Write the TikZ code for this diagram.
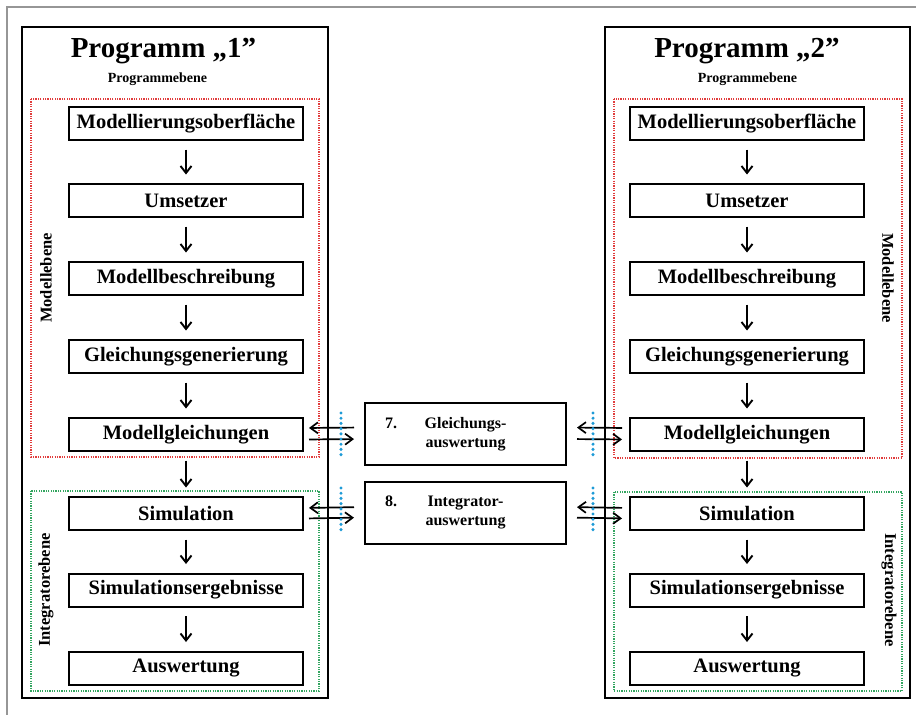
\documentclass[tikz,border=0pt]{standalone}
\usepackage{fontspec}
\setmainfont{Liberation Serif}
\usetikzlibrary{arrows.meta,calc}
\definecolor{dotred}{RGB}{225,60,60}
\definecolor{dotgreen}{RGB}{50,165,95}
\definecolor{dotblue}{RGB}{30,155,215}
\definecolor{framegray}{RGB}{150,150,150}
\tikzset{
  stepbox/.style={draw, line width=2pt, minimum width=234pt, minimum height=33pt,
    inner sep=0pt, font=\fontsize{20.5}{22}\selectfont\bfseries},
  midbox/.style={draw, line width=2pt, minimum width=201pt, minimum height=62pt,
    inner sep=0pt, align=center, font=\fontsize{16}{19}\selectfont\bfseries},
  numlabel/.style={anchor=base west, inner sep=0pt, font=\fontsize{16}{19}\selectfont\bfseries},
  flow/.style={-{Straight Barb[length=7pt,width=11pt]}, line width=1.9pt,
    shorten <=8.5pt, shorten >=8.5pt},
  xarr/.style={-{Straight Barb[length=7.5pt,width=11pt]}, line width=1.7pt},
  outerframe/.style={draw, line width=2.4pt},
  reddots/.style={draw=dotred, line width=1.4pt, dash pattern=on 1.2pt off 1.2pt},
  greendots/.style={draw=dotgreen, line width=1.4pt, dash pattern=on 1.2pt off 1.2pt},
  bluedots/.style={draw=dotblue, line width=3.4pt, line cap=round, dash pattern=on 0pt off 5.2pt},
  titletext/.style={anchor=base, inner sep=0pt, font=\fontsize{29}{31}\selectfont\bfseries},
  subtitle/.style={anchor=base, inner sep=0pt, font=\fontsize{14}{16}\selectfont\bfseries},
  sidelabel/.style={inner sep=0pt, font=\fontsize{16.5}{18}\selectfont\bfseries},
}
\begin{document}
\begin{tikzpicture}[x=1pt, y=-1pt]
  \useasboundingbox (0,0) rectangle (916,715);
  \fill[white] (0,0) rectangle (916,715);
  % page frame (top and left edge)
  \draw[framegray, line width=1.3pt] (7,715) -- (7,7) -- (916,7);

  % program frames
  \draw[outerframe] (22,27) rectangle (328,698);
  \draw[outerframe] (605,27) rectangle (910,698);

  % level frames
  \draw[reddots] (31,99) rectangle (319,457);
  \draw[greendots] (31,491) rectangle (319,691);
  \draw[reddots] (614,99) rectangle (902,458);
  \draw[greendots] (614,492) rectangle (902,691);

  % titles
  \node[titletext] (t1) at (163.5,57) {Programm „1”};
  \node[subtitle] (s1) at (157.5,82) {Programmebene};
  \node[titletext] (t2) at (747,57) {Programm „2”};
  \node[subtitle] (s2) at (747.5,82) {Programmebene};

  % side labels
  \node[sidelabel, rotate=90] (ml1) at (46,278) {Modellebene};
  \node[sidelabel, rotate=90] (il1) at (46,590) {Integratorebene};
  \node[sidelabel, rotate=-90] (ml2) at (888,278) {Modellebene};
  \node[sidelabel, rotate=-90] (il2) at (889,590) {Integratorebene};

  % program 1 chain
  \node[stepbox] (L1) at (186,123.5) {Modellierungsoberfläche};
  \node[stepbox] (L2) at (186,200.5) {Umsetzer};
  \node[stepbox] (L3) at (186,278.5) {Modellbeschreibung};
  \node[stepbox] (L4) at (186,356.5) {Gleichungsgenerierung};
  \node[stepbox] (L5) at (186,434.5) {Modellgleichungen};
  \node[stepbox] (L6) at (186,513.5) {Simulation};
  \node[stepbox] (L7) at (186,590) {Simulationsergebnisse};
  \node[stepbox] (L8) at (186,668) {Auswertung};

  % program 2 chain
  \node[stepbox] (R1) at (747,123.5) {Modellierungsoberfläche};
  \node[stepbox] (R2) at (747,200.5) {Umsetzer};
  \node[stepbox] (R3) at (747,278.5) {Modellbeschreibung};
  \node[stepbox] (R4) at (747,356.5) {Gleichungsgenerierung};
  \node[stepbox] (R5) at (747,434.5) {Modellgleichungen};
  \node[stepbox] (R6) at (747,513.5) {Simulation};
  \node[stepbox] (R7) at (747,590) {Simulationsergebnisse};
  \node[stepbox] (R8) at (747,668) {Auswertung};

  \foreach \a/\b in {1/2,2/3,3/4,4/5,5/6,6/7,7/8}{
    \draw[flow] (L\a) -- (L\b);
    \draw[flow] (R\a) -- (R\b);
  }

  % coupling boxes
  \node[midbox] (g7) at (465.5,434) {Gleichungs-\\auswertung};
  \node[numlabel] (n7) at (385,428) {7.};
  \node[midbox] (g8) at (465.5,512.5) {Integrator-\\auswertung};
  \node[numlabel] (n8) at (385,506.5) {8.};

  % coupling arrows
  \draw[xarr, shorten <=10pt, shorten >=5pt] ([yshift=6.5pt]g7.west) -- ([yshift=6.5pt]L5.east);
  \draw[xarr, shorten <=5pt, shorten >=10pt] ([yshift=-5pt]L5.east) -- ([yshift=-5pt]g7.west);
  \draw[xarr, shorten <=7pt, shorten >=10pt] ([yshift=6.5pt]R5.west) -- ([yshift=6.5pt]g7.east);
  \draw[xarr, shorten <=10pt, shorten >=7pt] ([yshift=-5pt]g7.east) -- ([yshift=-5pt]R5.west);

  \draw[xarr, shorten <=10pt, shorten >=5pt] ([yshift=5.5pt]g8.west) -- ([yshift=5.5pt]L6.east);
  \draw[xarr, shorten <=5pt, shorten >=10pt] ([yshift=-5pt]L6.east) -- ([yshift=-5pt]g8.west);
  \draw[xarr, shorten <=7pt, shorten >=10pt] ([yshift=5.5pt]R6.west) -- ([yshift=5.5pt]g8.east);
  \draw[xarr, shorten <=10pt, shorten >=7pt] ([yshift=-5pt]g8.east) -- ([yshift=-5pt]R6.west);

  % interface markers
  \draw[bluedots] (341,413) -- (341,458);
  \draw[bluedots] (341,488) -- (341,533);
  \draw[bluedots] (593,413) -- (593,458);
  \draw[bluedots] (593,488) -- (593,533);
\end{tikzpicture}
\end{document}
